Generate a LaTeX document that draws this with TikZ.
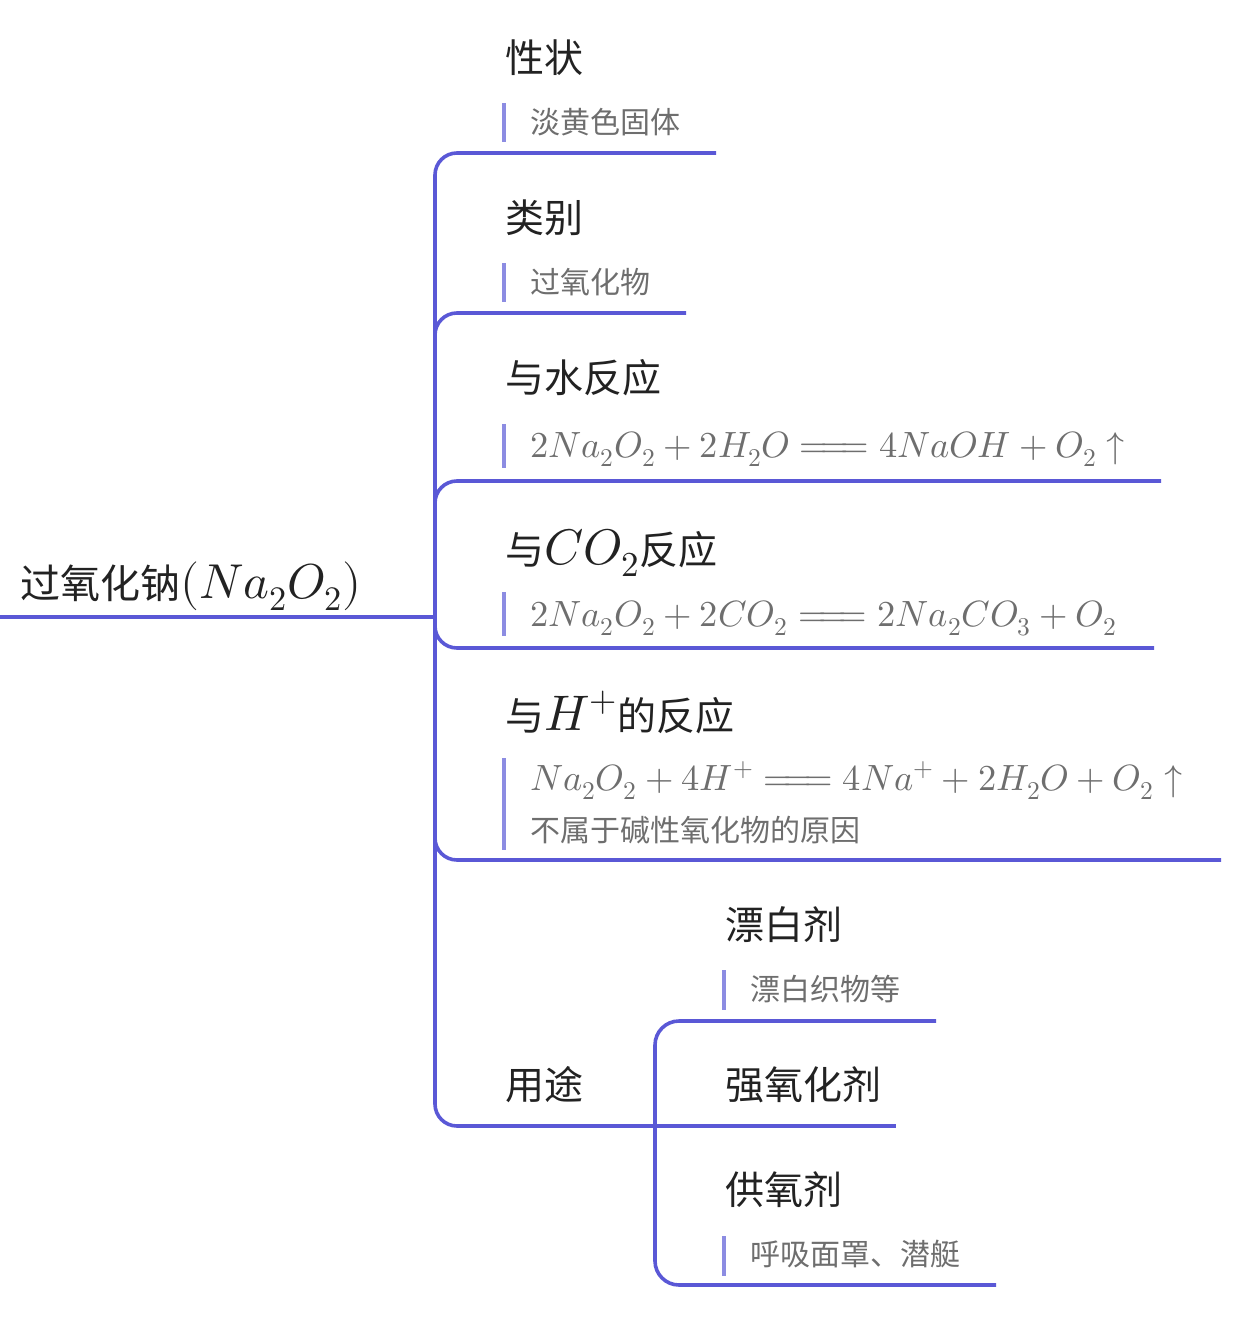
\documentclass[tikz,border=0pt]{standalone}
\usepackage{fontspec}
\usepackage{unicode-math}
\setmainfont{Noto Sans CJK SC}
\setmathfont{Latin Modern Math}
\definecolor{trunk}{RGB}{90,88,214}
\definecolor{barc}{RGB}{140,140,226}
\definecolor{headc}{RGB}{34,34,34}
\definecolor{notec}{RGB}{110,110,110}
\newcommand{\longeqsign}{\mathrel{=\mkern-4mu=\mkern-4mu=}}
\newcommand{\mth}[2]{{\fontsize{#1}{#1}\selectfont$#2$}}
\tikzset{
  branch/.style={draw=trunk,line width=3.6pt,rounded corners=22pt},
  notebar/.style={draw=barc,line width=4pt},
  head/.style={anchor=base west,inner sep=0pt,text=headc,font=\fontsize{39}{46}\selectfont},
  rootnode/.style={anchor=base west,inner sep=0pt,text=headc,font=\fontsize{40}{46}\selectfont},
  note/.style={anchor=base west,inner sep=0pt,text=notec,font=\fontsize{30}{36}\selectfont},
  eqn/.style={anchor=base west,inner sep=0pt,text=notec,font=\fontsize{36.5}{40}\selectfont},
}
\begin{document}
\begin{tikzpicture}[x=1pt,y=-1pt]
\useasboundingbox (0,0) rectangle (1243,1322);
% junction coordinates
\coordinate (start) at (0,617);
\coordinate (J) at (435,617);
\coordinate (c1) at (435,153); \coordinate (e1) at (716,153);
\coordinate (c2) at (435,313); \coordinate (e2) at (686,313);
\coordinate (c3) at (435,481); \coordinate (e3) at (1161,481);
\coordinate (c4) at (435,648); \coordinate (e4) at (1154,648);
\coordinate (c5) at (435,860); \coordinate (e5) at (1221,860);
\coordinate (c6) at (435,1126); \coordinate (J2) at (655,1126);
\coordinate (d1) at (655,1021); \coordinate (f1) at (936,1021);
\coordinate (f2) at (896,1126);
\coordinate (d3) at (655,1285); \coordinate (f3) at (996,1285);

% root
\node[rootnode] (root) at (20,598) {过氧化钠\mth{49}{(Na_2O_2)}};
\draw[branch] (start) -- (J);

% branches
\draw[branch] (J) -- (c1) -- (e1);
\draw[branch] (J) -- (c2) -- (e2);
\draw[branch] (J) -- (c3) -- (e3);
\draw[branch] (J) -- (c4) -- (e4);
\draw[branch] (J) -- (c5) -- (e5);
\draw[branch] (J) -- (c6) -- (J2);
\draw[branch,rounded corners=24pt] (J2) -- (d1) -- (f1);
\draw[branch] (J2) -- (f2);
\draw[branch,rounded corners=24pt] (J2) -- (d3) -- (f3);

% headings
\node[head] (h1) at (505,73) {性状};
\node[head] (h2) at (505,232) {类别};
\node[head] (h3) at (505,392) {与水反应};
\node[head] (h4) at (505,564) {与\mth{50}{CO_2}反应};
\node[head] (h5) at (505,730) {与\mth{50}{H^+}的反应};
\node[head] (h6) at (505,1099) {用途};
\node[head] (s1) at (725,939) {漂白剂};
\node[head] (s2) at (725,1099) {强氧化剂};
\node[head] (s3) at (725,1204) {供氧剂};

% notes
\node[note] (n1) at (530,133) {淡黄色固体};
\draw[notebar] (504,103) -- (504,142);
\node[note] (n2) at (530,293) {过氧化物};
\draw[notebar] (504,263) -- (504,302);
\node[eqn] (n3) at (530,457) {$2Na_2O_2+2H_2O\longeqsign 4NaOH+O_2\uparrow$};
\draw[notebar] (504,424) -- (504,468);
\node[eqn] (n4) at (530,626) {$2Na_2O_2+2CO_2\longeqsign 2Na_2CO_3+O_2$};
\draw[notebar] (504,592) -- (504,636);
\node[eqn] (n5) at (530,790) {$Na_2O_2+4H^+\longeqsign 4Na^++2H_2O+O_2\uparrow$};
\node[note] (n5b) at (530,841) {不属于碱性氧化物的原因};
\draw[notebar] (504,758) -- (504,850);
\node[note] (n6) at (750,1000) {漂白织物等};
\draw[notebar] (724,970) -- (724,1010);
\node[note] (n7) at (750,1265) {呼吸面罩、潜艇};
\draw[notebar] (724,1236) -- (724,1276);
\end{tikzpicture}
\end{document}
